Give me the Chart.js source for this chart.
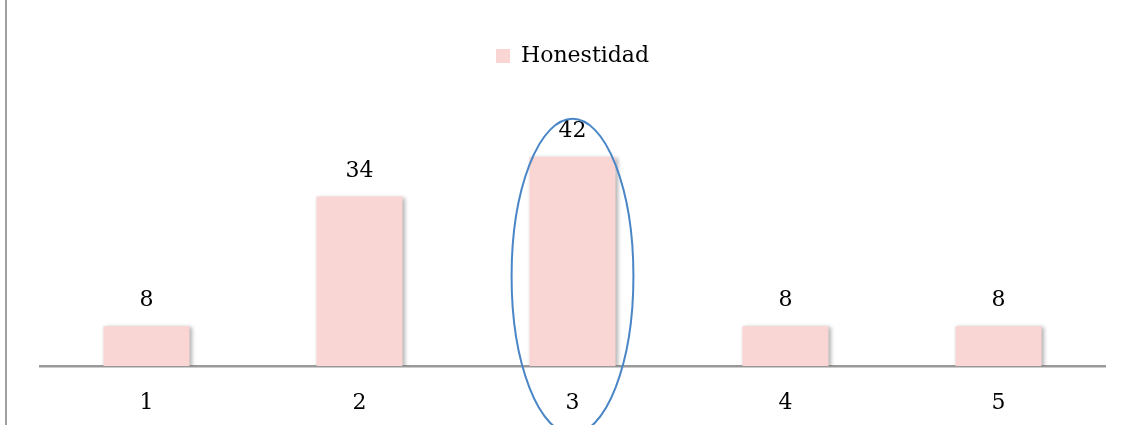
<!DOCTYPE html>
<html>
<head>
<meta charset="utf-8">
<script src="https://cdn.jsdelivr.net/npm/chart.js@4.4.1/dist/chart.umd.min.js"></script>
<style>
  html, body { margin: 0; padding: 0; background: #fff; }
  #wrap { width: 1128px; height: 425px; }
</style>
</head>
<body>
<div id="wrap"><canvas id="grafico" width="1128" height="425"></canvas></div>
<script>
// datos de la serie
const categorias = ['1', '2', '3', '4', '5'];
const honestidad = [8, 34, 42, 8, 8];
const nombreSerie = 'Honestidad';

const rosa = '#F9D5D3';
const fuente = "'DejaVu Serif', serif";

// etiquetas de valor encima de cada barra
const etiquetasValor = {
  id: 'etiquetasValor',
  afterDatasetsDraw(chart) {
    const ctx = chart.ctx;
    const meta = chart.getDatasetMeta(0);
    ctx.save();
    ctx.font = '22px ' + fuente;
    ctx.fillStyle = '#000';
    ctx.textAlign = 'center';
    ctx.textBaseline = 'alphabetic';
    meta.data.forEach((bar, i) => {
      ctx.fillText(String(chart.data.datasets[0].data[i]), bar.x, bar.y - 20);
    });
    ctx.restore();
  }
};

// sombra suave de las barras
const sombraBarras = {
  id: 'sombraBarras',
  beforeDatasetsDraw(chart) {
    const ctx = chart.ctx;
    ctx.save();
    ctx.shadowColor = 'rgba(0,0,0,0.3)';
    ctx.shadowBlur = 4;
    ctx.shadowOffsetX = 2;
    ctx.shadowOffsetY = 1;
  },
  afterDatasetsDraw(chart) {
    chart.ctx.restore();
  }
};

// óvalo azul que resalta la categoría 3, y línea del borde izquierdo
const ovalo = {
  id: 'ovalo',
  beforeDraw(chart) {
    const ctx = chart.ctx;
    ctx.save();
    ctx.fillStyle = '#a0a0a0';
    ctx.fillRect(5, 0, 2, chart.height);
    ctx.restore();
  },
  afterDraw(chart) {
    const ctx = chart.ctx;
    const x = chart.scales.x, y = chart.scales.y;
    const cx = x.getPixelForValue(2);
    const paso = x.getPixelForValue(1) - x.getPixelForValue(0);
    const arriba = y.getPixelForValue(49.6);
    const abajo = y.getPixelForValue(-13.6);
    const cy = (arriba + abajo) / 2;
    const ry = (abajo - arriba) / 2;
    const rx = paso * 0.286;
    ctx.save();
    ctx.beginPath();
    ctx.ellipse(cx, cy, rx, ry, 0, 0, Math.PI * 2);
    ctx.strokeStyle = '#4A86C6';
    ctx.lineWidth = 2;
    ctx.stroke();
    ctx.restore();
  }
};

new Chart(document.getElementById('grafico'), {
  type: 'bar',
  data: {
    labels: categorias,
    datasets: [{
      label: nombreSerie,
      data: honestidad,
      backgroundColor: rosa,
      borderWidth: 0,
      categoryPercentage: 1,
      barPercentage: 0.404
    }]
  },
  options: {
    responsive: false,
    animation: false,
    layout: { padding: { left: 40, right: 23, top: 0, bottom: 0 } },
    plugins: {
      legend: {
        position: 'top',
        labels: {
          boxWidth: 14,
          boxHeight: 14,
          padding: 45,
          color: '#000',
          font: { family: fuente, size: 22 }
        }
      },
      title: { display: false },
      tooltip: { enabled: false }
    },
    scales: {
      x: {
        grid: { display: false, drawTicks: false },
        border: { display: true, color: '#999', width: 2.5 },
        ticks: { color: '#000', padding: 24, font: { family: fuente, size: 22 } },
        afterFit(scale) { scale.height = 59; }
      },
      y: {
        display: false,
        min: 0,
        max: 58
      }
    }
  },
  plugins: [sombraBarras, etiquetasValor, ovalo]
});
</script>
</body>
</html>
